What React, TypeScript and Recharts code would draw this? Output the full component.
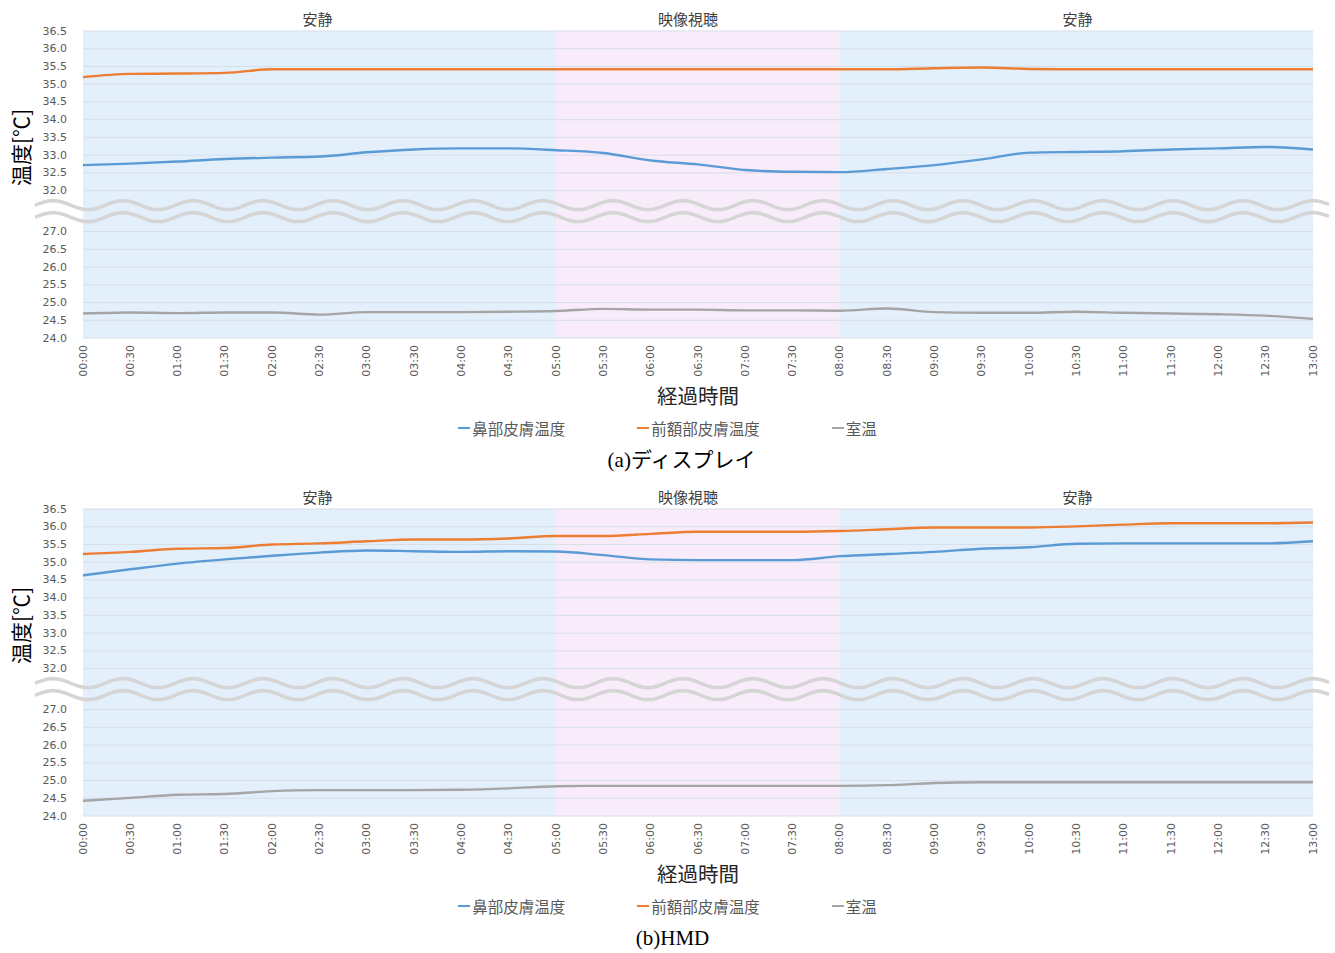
import React from 'react';
import {
  LineChart,
  Line,
  XAxis,
  YAxis,
  ReferenceArea,
  ReferenceLine,
  Legend
} from 'recharts';

// elapsed time in seconds (ticks every 30 s)
const timeSec = [0, 30, 60, 90, 120, 150, 180, 210, 240, 270, 300, 330, 360, 390, 420, 450, 480, 510, 540, 570, 600, 630, 660, 690, 720, 750, 780];

// (a) display
const displayNose = [32.72, 32.76, 32.82, 32.89, 32.93, 32.96, 33.08, 33.16, 33.19, 33.19, 33.14, 33.06, 32.85, 32.74, 32.58, 32.53, 32.52, 32.61, 32.72, 32.88, 33.07, 33.09, 33.11, 33.16, 33.19, 33.23, 33.16];
const displayForehead = [35.2, 35.29, 35.3, 35.32, 35.42, 35.42, 35.42, 35.42, 35.42, 35.42, 35.42, 35.42, 35.42, 35.42, 35.42, 35.42, 35.42, 35.42, 35.45, 35.47, 35.43, 35.42, 35.42, 35.42, 35.42, 35.42, 35.42];
const displayRoom = [24.69, 24.72, 24.7, 24.72, 24.72, 24.66, 24.73, 24.73, 24.73, 24.74, 24.76, 24.82, 24.8, 24.8, 24.78, 24.78, 24.77, 24.83, 24.73, 24.71, 24.71, 24.74, 24.71, 24.69, 24.67, 24.63, 24.54];

// (b) HMD
const hmdNose = [34.63, 34.8, 34.96, 35.08, 35.18, 35.27, 35.33, 35.31, 35.29, 35.31, 35.3, 35.2, 35.08, 35.06, 35.06, 35.06, 35.17, 35.23, 35.29, 35.38, 35.42, 35.52, 35.53, 35.53, 35.53, 35.53, 35.59];
const hmdForehead = [35.23, 35.29, 35.38, 35.4, 35.5, 35.53, 35.59, 35.64, 35.64, 35.67, 35.74, 35.74, 35.8, 35.86, 35.86, 35.86, 35.88, 35.93, 35.98, 35.98, 35.98, 36.01, 36.06, 36.1, 36.1, 36.1, 36.12];
const hmdRoom = [24.43, 24.51, 24.6, 24.62, 24.7, 24.73, 24.73, 24.73, 24.74, 24.78, 24.84, 24.85, 24.85, 24.85, 24.85, 24.85, 24.85, 24.87, 24.93, 24.95, 24.95, 24.95, 24.95, 24.95, 24.95, 24.95, 24.95];

const lowerTicks = [24.0, 24.5, 25.0, 25.5, 26.0, 26.5, 27.0];
const upperTicks = [32.0, 32.5, 33.0, 33.5, 34.0, 34.5, 35.0, 35.5, 36.0, 36.5];

const phaseNames = ['安静', '映像視聴', '安静'];
const phaseBounds = [0, 300, 480, 780];
const phaseFills = ['#e3effb', '#f8ebfa', '#e3effb'];
const phaseLabelShift = [-2, -10, 1];

const seriesNames = ['鼻部皮膚温度', '前額部皮膚温度', '室温'];
const seriesColors = ['#5b9bd5', '#ed7d31', '#a5a5a5'];

const JP = "'Noto Sans CJK JP', sans-serif";
const NUM = "'DejaVu Sans', sans-serif";

// broken axis: 24–27 and 32–36.5 share one axis, with a gap in between
const GAP = 2.31;
const toAxis = (t: number) => (t <= 29.5 ? (t - 24) * 2 : (t - 32) * 2 + 6 + GAP);
const fromAxis = (v: number) => (v <= 6 + GAP / 2 ? 24 + v / 2 : 32 + (v - 6 - GAP) / 2);
const allTicks = [...lowerTicks, ...upperTicks];

const fmtTime = (s: number) => {
  const m = Math.floor(s / 60);
  const r = s % 60;
  return `${String(m).padStart(2, '0')}:${String(r).padStart(2, '0')}`;
};

const XTick = (props: any) => {
  const { x, y, payload } = props;
  const ty = y - 1;
  return (
    <text
      x={x}
      y={ty}
      transform={`rotate(-90 ${x} ${ty})`}
      textAnchor="end"
      dominantBaseline="central"
      fontSize={11}
      fontFamily={NUM}
      fill="#595959"
    >
      {fmtTime(payload.value)}
    </text>
  );
};

const YTick = (props: any) => {
  const { x, y, payload } = props;
  return (
    <text x={x - 8} y={y} textAnchor="end" dominantBaseline="central" fontSize={11} fontFamily={NUM} fill="#595959">
      {fromAxis(payload.value).toFixed(1)}
    </text>
  );
};

const YTitle = (props: any) => {
  const { viewBox } = props;
  const cx = (viewBox?.x ?? 0) + 20;
  const cy = (viewBox?.y ?? 31) + (viewBox?.height ?? 307) / 2 - 37;
  return (
    <text
      x={cx}
      y={cy}
      transform={`rotate(-90 ${cx} ${cy})`}
      textAnchor="middle"
      dominantBaseline="central"
      fontSize={21}
      fontFamily={JP}
      fill="#000"
    >
      温度[℃]
    </text>
  );
};

// the wavy break mark across the gap
const WaveBreak = (props: any) => {
  const { x1, x2, y1 } = props;
  const start = x1 - 48;
  const end = x2 + 17;
  const wave = (base: number) => {
    let d = '';
    for (let x = start; x <= end; x += 2) {
      const y = base - 4.5 * Math.cos((2 * Math.PI * (x - x1 - 40)) / 70);
      d += (d ? 'L' : 'M') + x.toFixed(1) + ',' + y.toFixed(1);
    }
    return d;
  };
  return (
    <g>
      <path d={wave(y1 - 6)} fill="none" stroke="#d5d5d5" strokeWidth={3.5} />
      <path d={wave(y1 + 6)} fill="none" stroke="#d5d5d5" strokeWidth={3.5} />
    </g>
  );
};

const LegendContent = (props: any) => {
  const items = [...(props.payload || [])].sort(
    (a: any, b: any) => seriesNames.indexOf(a.value) - seriesNames.indexOf(b.value)
  );
  return (
    <div
      style={{
        display: 'flex',
        justifyContent: 'center',
        alignItems: 'center',
        gap: 72,
        height: 22,
        fontFamily: JP,
        fontSize: 15.5,
        color: '#595959'
      }}
    >
      {items.map((e: any) => (
        <span key={e.value} style={{ display: 'flex', alignItems: 'center' }}>
          <span style={{ display: 'inline-block', width: 12, height: 2, background: e.color, marginRight: 2 }} />
          {e.value}
        </span>
      ))}
    </div>
  );
};

interface PanelProps {
  top: number;
  nose: number[];
  forehead: number[];
  room: number[];
  caption: string;
  captionShift: number;
}

const Panel: React.FC<PanelProps> = ({ top, nose, forehead, room, caption, captionShift }) => {
  const data = timeSec.map((t, i) => ({ t, nose: nose[i], forehead: forehead[i], room: room[i] }));
  const keys = ['nose', 'forehead', 'room'];

  return (
    <div style={{ position: 'absolute', left: 0, top, width: 1335, height: 478 }}>
      <LineChart width={1335} height={445} data={data} margin={{ top: 31, right: 22, left: 0, bottom: 6 }}>
        {phaseNames.map((name, i) => (
          <ReferenceArea
            key={i}
            x1={phaseBounds[i]}
            x2={phaseBounds[i + 1]}
            fill={phaseFills[i]}
            fillOpacity={1}
            stroke="none"
            label={{
              value: name,
              position: 'top',
              offset: 6,
              dx: phaseLabelShift[i],
              fontSize: 15,
              fontFamily: JP,
              fill: '#404040'
            }}
          />
        ))}
        {allTicks.map((v) => (
          <ReferenceLine key={v} y={toAxis(v)} stroke="#d6dfe9" strokeWidth={1} />
        ))}
        <ReferenceLine y={6 + GAP / 2} stroke="none" shape={WaveBreak} />
        <XAxis
          dataKey="t"
          type="number"
          domain={[0, 780]}
          ticks={timeSec}
          interval={0}
          tick={<XTick />}
          tickLine={false}
          axisLine={false}
          height={79}
          label={{ value: '経過時間', position: 'insideBottom', offset: 13, fontSize: 20.5, fontFamily: JP, fill: '#262626' }}
        />
        <YAxis
          type="number"
          domain={[0, toAxis(36.5)]}
          ticks={allTicks.map(toAxis)}
          interval={0}
          tick={<YTick />}
          tickLine={false}
          axisLine={false}
          width={83}
          label={YTitle}
        />
        {keys.map((k, i) => (
          <Line
            key={k}
            type="monotone"
            dataKey={(d: any) => toAxis(d[k])}
            name={seriesNames[i]}
            stroke={seriesColors[i]}
            strokeWidth={2.4}
            dot={false}
            isAnimationActive={false}
          />
        ))}
        <Legend verticalAlign="bottom" height={22} content={LegendContent} wrapperStyle={{ left: 0, width: 1335 }} />
      </LineChart>
      <div
        style={{
          position: 'absolute',
          left: captionShift,
          top: 447,
          width: 1335,
          textAlign: 'center',
          fontFamily: "'Liberation Serif', 'Noto Sans CJK JP', serif",
          fontSize: 21,
          lineHeight: '26px',
          color: '#000'
        }}
      >
        {caption}
      </div>
    </div>
  );
};

export default function App() {
  return (
    <div style={{ position: 'absolute', left: 0, top: 0, width: 1335, height: 953, background: '#fff' }}>
      <Panel top={0} nose={displayNose} forehead={displayForehead} room={displayRoom} caption="(a)ディスプレイ" captionShift={14} />
      <Panel top={478} nose={hmdNose} forehead={hmdForehead} room={hmdRoom} caption="(b)HMD" captionShift={5} />
    </div>
  );
}
